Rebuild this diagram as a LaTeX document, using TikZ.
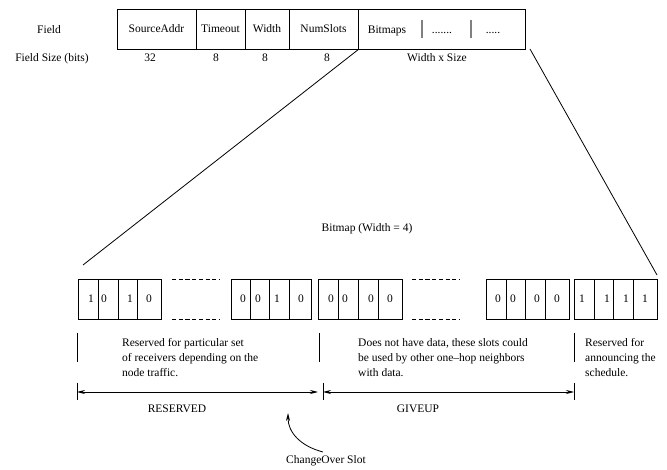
\documentclass[tikz,border=0pt]{standalone}
\usepackage{fontspec}
\setmainfont{Liberation Serif}
\usetikzlibrary{arrows.meta}
\begin{document}
\begin{tikzpicture}[x=1pt,y=-1pt,
  every node/.style={font=\fontsize{11.5}{15}\selectfont, inner sep=0pt},
  field/.style={draw, line width=0.9pt, minimum height=40pt},
  cell/.style={draw, line width=0.8pt, minimum height=40pt},
  txt/.style={anchor=base},
  blk/.style={anchor=north west, align=left},
  ln/.style={line width=0.8pt},
  dsh/.style={line width=0.7pt, dash pattern=on 4.2pt off 2.5pt},
  arr/.style={line width=0.8pt, {Stealth[length=8pt,width=4pt]}-{Stealth[length=8pt,width=4pt]}},
]
\useasboundingbox (0,0) rectangle (667,470);

% top field row
\node[field, minimum width=79pt] (src) at (156.5,29) {SourceAddr};
\node[field, minimum width=49pt] (tmo) at (220.5,29) {Timeout};
\node[field, minimum width=44pt] (wid) at (267,29) {Width};
\node[field, minimum width=69pt] (num) at (323.5,29) {NumSlots};
\node[field, minimum width=167pt] (bmp) at (441.5,29) {};
\node[txt] (bmtxt) at (387,34) {Bitmaps};
\node[txt] (dots1) at (442,34) {.......};
\node[txt] (dots2) at (493,34) {.....};
\draw[gray, line width=1.2pt] (422,20) -- (422,38);
\draw[gray, line width=1.2pt] (471,20) -- (471,38);

\node[txt] (fieldlbl) at (49,34) {Field};
\node[txt] (sizelbl) at (52,62) {Field Size (bits)};
\node[txt] (s32) at (150,62) {32};
\node[txt] (s8a) at (216,62) {8};
\node[txt] (s8b) at (265,62) {8};
\node[txt] (s8c) at (327,62) {8};
\node[txt] (swx) at (437,62) {Width x Size};

% zoom lines
\coordinate (lt) at (83,265);
\coordinate (rs) at (530,49);
\coordinate (rt) at (657,275);
\draw[ln] (num.south east) -- (lt);
\draw[ln] (rs) -- (rt);

\node[txt] (bmlabel) at (367,232) {Bitmap (Width = 4)};

% bitmap cells
\newcommand{\bcell}[3]{\node[cell, minimum width={(#3-#2)*1pt}] (#1) at ({(#2+#3)/2},299) {};}
\bcell{a1}{78}{98}\bcell{a2}{98}{118}\bcell{a3}{118}{137}\bcell{a4}{137}{161}
\bcell{b1}{231}{250}\bcell{b2}{250}{269}\bcell{b3}{269}{289}\bcell{b4}{289}{311}
\bcell{c1}{318}{338}\bcell{c2}{338}{358}\bcell{c3}{358}{378}\bcell{c4}{378}{402}
\bcell{d1}{486}{506}\bcell{d2}{506}{525}\bcell{d3}{525}{545}\bcell{d4}{545}{569}
\bcell{e1}{574}{594}\bcell{e2}{594}{613}\bcell{e3}{613}{633}\bcell{e4}{633}{657}

\foreach \x/\v in {91/1,104/0,130/1,149/0, 243/0,258/0,277/1,301/0,
                   331/0,345/0,371/0,390/0, 498/0,513/0,537/0,557/0,
                   582/1,607/1,626/1,645/1}
  \node[txt] at (\x,303) {\v};

\draw[dsh] (172,279) -- (219,279);
\draw[dsh] (172,319) -- (219,319);
\draw[dsh] (412,279) -- (459,279);
\draw[dsh] (412,319) -- (459,319);

% separators and descriptions
\draw[ln] (77,333) -- (77,362);
\draw[ln] (319,333) -- (319,362);
\draw[ln] (574,333) -- (574,362);
\node[blk] (t1) at (122,338) {Reserved for particular set\\of receivers depending on the\\node traffic.};
\node[blk] (t2) at (358,338) {Does not have data, these slots could\\be used by other one--hop neighbors\\with data.};
\node[blk] (t3) at (585,338) {Reserved for\\announcing the\\schedule.};

% range arrows
\draw[ln] (77,383) -- (77,400);
\draw[ln] (323,383) -- (323,400);
\draw[ln] (574,383) -- (574,400);
\coordinate (r1) at (77,392);
\coordinate (r2) at (318,392);
\coordinate (g1) at (323,392);
\coordinate (g2) at (574,392);
\draw[arr] (r1) -- (r2);
\draw[arr] (g1) -- (g2);
\node[txt] (res) at (177,412) {RESERVED};
\node[txt] (giv) at (418,412) {GIVEUP};

% changeover
\node[txt] (co) at (326,463) {ChangeOver Slot};
\coordinate (costart) at (323,452);
\coordinate (cotip) at (288,413);
\draw[ln, -{Stealth[length=8pt,width=4pt]}] (costart) .. controls (300,446) and (288,432) .. (cotip);
\end{tikzpicture}
\end{document}
